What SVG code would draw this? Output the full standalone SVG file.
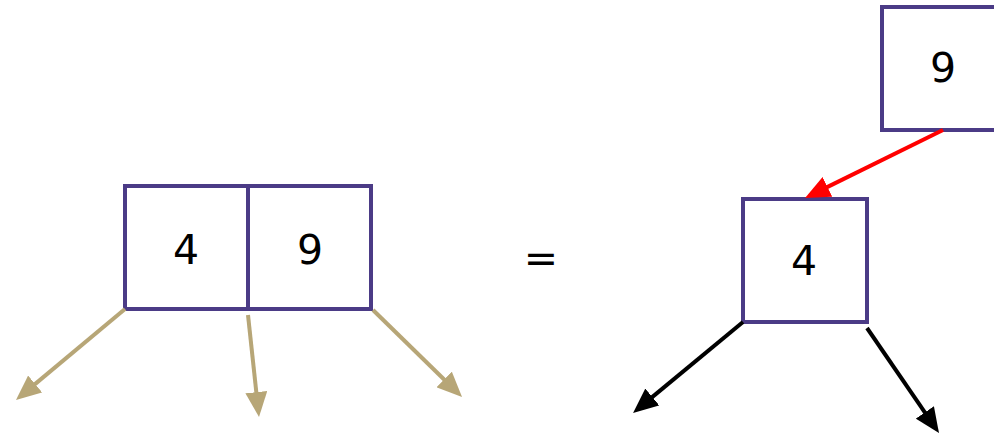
<svg xmlns="http://www.w3.org/2000/svg" width="994" height="435" viewBox="0 0 994 435">
<style>
.box{fill:#ffffff;stroke:#4b3b86;stroke-width:4}
.lbl{font-family:"DejaVu Sans",Verdana,sans-serif;font-size:41px;fill:#000;text-anchor:middle}
.tan{stroke:#b7a677;stroke-width:4;fill:none}
.red{stroke:#ff0000;stroke-width:4;fill:none}
.blk{stroke:#000;stroke-width:4;fill:none}
</style>
<defs>
<marker id="aTan" markerUnits="userSpaceOnUse" markerWidth="25" markerHeight="22" refX="10" refY="11" orient="auto"><path d="M0,0 L25,11 L0,22 z" fill="#b7a677"/></marker>
<marker id="aRed" markerUnits="userSpaceOnUse" markerWidth="25" markerHeight="22" refX="10" refY="11" orient="auto"><path d="M0,0 L25,11 L0,22 z" fill="#ff0000"/></marker>
<marker id="aBlk" markerUnits="userSpaceOnUse" markerWidth="25" markerHeight="22" refX="10" refY="11" orient="auto"><path d="M0,0 L25,11 L0,22 z" fill="#000"/></marker>
</defs>
<g id="node-49">
<rect class="box" x="125" y="186" width="246" height="123"/>
<line x1="248" y1="186" x2="248" y2="309" stroke="#4b3b86" stroke-width="4"/>
<text class="lbl" x="186" y="264">4</text>
<text class="lbl" x="310" y="264">9</text>
</g>
<g id="equals"><text class="lbl" x="541" y="272">=</text></g>
<g id="node-9">
<rect class="box" x="882" y="7" width="124" height="123"/>
<text class="lbl" x="943" y="82">9</text>
</g>
<g id="node-4">
<rect class="box" x="743" y="199" width="124" height="123"/>
<text class="lbl" x="804" y="275">4</text>
</g>
<g id="connectors">
<line class="tan" x1="125" y1="309" x2="27.5" y2="390.4" marker-end="url(#aTan)"/>
<line class="tan" x1="248" y1="315" x2="257.4" y2="402.1" marker-end="url(#aTan)"/>
<line class="tan" x1="373" y1="310" x2="451.3" y2="386.5" marker-end="url(#aTan)"/>
<line class="red" x1="943" y1="130" x2="818.5" y2="191.4" marker-end="url(#aRed)"/>
<line class="blk" x1="743" y1="322" x2="644.6" y2="403.4" marker-end="url(#aBlk)"/>
<line class="blk" x1="867" y1="328" x2="930.5" y2="420.6" marker-end="url(#aBlk)"/>
</g>
</svg>
